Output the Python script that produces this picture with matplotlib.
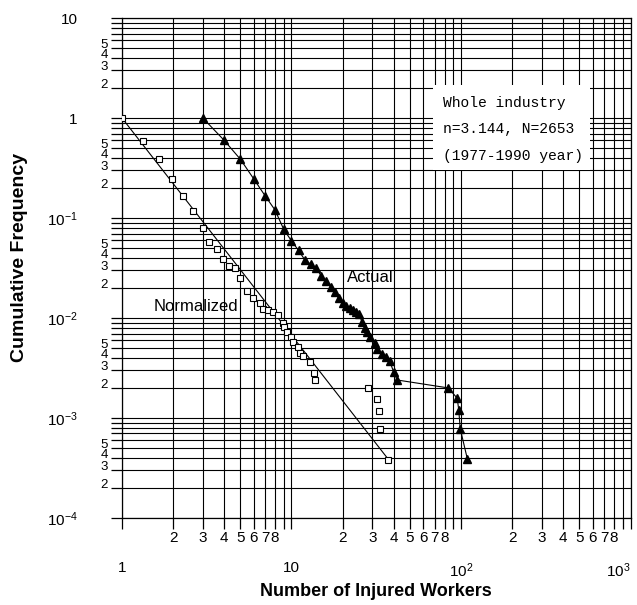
import matplotlib
matplotlib.use('Agg')
import matplotlib.pyplot as plt
from matplotlib.ticker import FixedLocator, FixedFormatter
from matplotlib.patches import Rectangle

plt.rcParams['font.family'] = ['Liberation Sans', 'DejaVu Sans']
plt.rcParams['mathtext.fontset'] = 'custom'
plt.rcParams['mathtext.rm'] = 'Liberation Sans'
plt.rcParams['mathtext.default'] = 'regular'

# Actual cumulative frequency (triangles)
actual_x = [3, 4, 5, 6, 7, 8, 9, 10, 11, 12, 13, 14, 15, 16, 17, 18, 19, 20,
            21, 22, 23, 24, 25, 26, 27, 28, 29, 31, 32, 34, 36, 38, 40, 42,
            84, 95, 97, 99, 109]
actual_y = [1.0, 0.60, 0.386, 0.245, 0.166, 0.120, 0.077, 0.059, 0.0475, 0.038,
            0.0345, 0.0315, 0.0262, 0.0235, 0.0204, 0.0180, 0.0157, 0.0141,
            0.0132, 0.0126, 0.0121, 0.0116, 0.0110, 0.0092, 0.0080, 0.0072,
            0.0064, 0.0056, 0.0049, 0.0044, 0.0041, 0.0037, 0.0029, 0.0024,
            0.0020, 0.00158, 0.00120, 0.00078, 0.00039]

# Normalized cumulative frequency (open squares)
norm_x = [1.0, 1.33, 1.66, 1.97, 2.30, 2.63, 2.99, 3.27, 3.65, 3.96, 4.30, 4.64,
          4.97, 5.48, 5.95, 6.52, 6.82, 7.29, 7.8, 8.36, 8.95, 9.0, 9.36, 10.0,
          10.2, 10.9, 11.3, 11.7, 12.8, 13.5, 13.7, 28.4, 32.1, 33.0, 33.2, 37.1]
norm_y = [1.0, 0.59, 0.386, 0.244, 0.167, 0.118, 0.079, 0.058, 0.0486, 0.0386,
          0.0333, 0.0314, 0.0249, 0.0188, 0.0159, 0.0140, 0.0122, 0.0119, 0.0114,
          0.0106, 0.0089, 0.0082, 0.0073, 0.0064, 0.0058, 0.0051, 0.0045, 0.0042,
          0.0036, 0.0028, 0.0024, 0.00198, 0.00155, 0.00118, 0.00077, 0.00038]

# fitted straight line for the normalized data
fit_x = [1.0, 37.1]
fit_y = [1.0, 0.00039]

x_major = [1, 10, 100, 1000]
x_major_labels = ['1', '10', '$10^2$', '$10^3$']
y_major = [1e-4, 1e-3, 1e-2, 1e-1, 1, 10]
y_major_labels = ['$10^{-4}$', '$10^{-3}$', '$10^{-2}$', '$10^{-1}$', '1', '10']

x_minor = []
x_minor_labels = []
for k in [1, 10, 100]:
    for m in range(2, 10):
        x_minor.append(m * k)
        x_minor_labels.append(str(m) if m <= 8 else '')

y_minor = []
y_minor_labels = []
for k in [1e-4, 1e-3, 1e-2, 1e-1, 1]:
    for m in range(2, 10):
        y_minor.append(m * k)
        y_minor_labels.append(str(m) if m <= 5 else '')

info_lines = ['Whole industry', 'n=3.144, N=2653', '(1977-1990 year)']

fig = plt.figure(figsize=(6.37, 6.05), dpi=100)
ax = fig.add_axes([0.1915, 0.1438, 0.7983, 0.8264])
ax.set_xscale('log')
ax.set_yscale('log')
ax.set_xlim(1, 1000)
ax.set_ylim(1e-4, 10)

ax.xaxis.set_major_locator(FixedLocator(x_major))
ax.xaxis.set_major_formatter(FixedFormatter(x_major_labels))
ax.xaxis.set_minor_locator(FixedLocator(x_minor))
ax.xaxis.set_minor_formatter(FixedFormatter(x_minor_labels))
ax.yaxis.set_major_locator(FixedLocator(y_major))
ax.yaxis.set_major_formatter(FixedFormatter(y_major_labels))
ax.yaxis.set_minor_locator(FixedLocator(y_minor))
ax.yaxis.set_minor_formatter(FixedFormatter(y_minor_labels))

ax.tick_params(axis='both', which='both', direction='out', length=8,
               width=0.9, color='black')
ax.tick_params(axis='x', which='major', pad=23, labelsize=11)
ax.tick_params(axis='x', which='minor', pad=1.5, labelsize=11)
ax.tick_params(axis='y', which='major', pad=24, labelsize=11)
ax.tick_params(axis='y', which='minor', pad=2, labelsize=9.5)
for s in ax.spines.values():
    s.set_linewidth(0.9)

# keep the 10^3 label inside the picture
ax.get_xticklabels()[-1].set_ha('right')
# minor y digits sit just above their grid line, as on the paper
for lab in ax.yaxis.get_ticklabels(minor=True):
    lab.set_va('baseline')

ax.grid(True, which='both', color='black', linewidth=0.8)
ax.set_axisbelow(True)

ax.plot(fit_x, fit_y, '-', color='black', linewidth=0.8, zorder=3)
ax.plot(actual_x, actual_y, '-^', color='black', markersize=6,
        linewidth=0.8, zorder=4)
ax.plot(norm_x, norm_y, 's', mfc='white', mec='black', markersize=5,
        mew=0.8, linestyle='none', zorder=4)

ax.add_patch(Rectangle((0.6116, 0.696), 0.3087, 0.170, transform=ax.transAxes,
                       facecolor='white', edgecolor='none', zorder=5))
for i, line in enumerate(info_lines):
    ax.text(0.631, 0.8306 - i * 0.0534, line, transform=ax.transAxes,
            ha='left', va='center', family='Liberation Mono', fontsize=10.5,
            zorder=6)

ax.text(0.4877, 0.482, 'Actual', transform=ax.transAxes, ha='center',
        va='center', fontsize=12, zorder=6)
ax.text(0.1455, 0.424, 'Normalized', transform=ax.transAxes, ha='center',
        va='center', fontsize=12, zorder=6)

fig.text(20 / 637, 1 - 257 / 605, 'Cumulative Frequency', rotation=90,
         fontsize=14, fontweight='bold', ha='center', va='center')
fig.text(376 / 637, 1 - 592 / 605, 'Number of Injured Workers',
         fontsize=13, fontweight='bold', ha='center', va='center')

fig.savefig('out.png', dpi=100)
